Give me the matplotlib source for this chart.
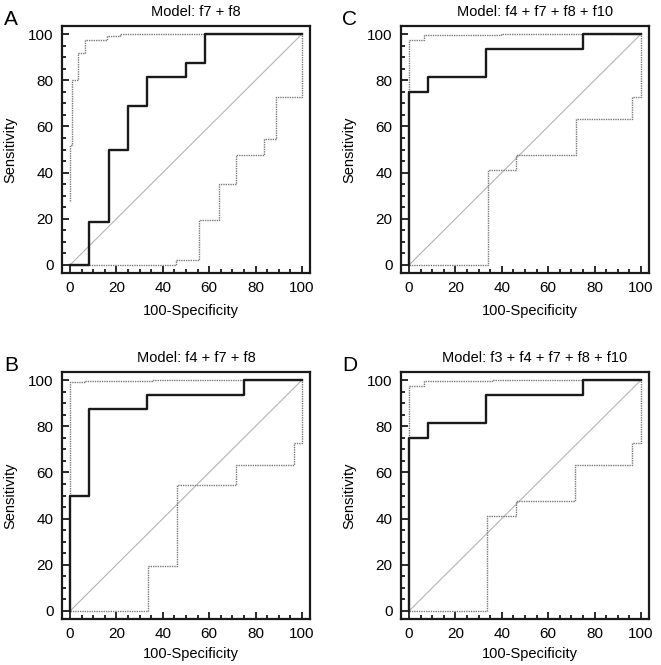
import matplotlib
matplotlib.use("Agg")
import matplotlib.pyplot as plt
from matplotlib.ticker import MultipleLocator

plt.rcParams['font.family'] = ['Liberation Sans', 'DejaVu Sans']

# ROC operating points (100-Specificity, Sensitivity), drawn as steps
a_roc_x = [0, 8.33, 16.67, 25, 33.33, 50, 58.33, 100]
a_roc_y = [0, 18.75, 50, 68.75, 81.25, 87.5, 100, 100]
a_hi_x = [0, 0, 0.8, 3.2, 6.5, 15.8, 21.5, 100]
a_hi_y = [27.5, 52, 80, 92, 97.4, 99.2, 100, 100]
a_lo_x = [0, 45.8, 55.8, 64.1, 71.5, 83.7, 88.7, 100]
a_lo_y = [0, 2.3, 19.5, 35, 47.6, 54.6, 72.6, 100]

b_roc_x = [0, 0, 8.33, 33.33, 75, 100]
b_roc_y = [0, 50, 87.5, 93.75, 100, 100]
b_hi_x = [0, 0, 6.5, 35.3, 100]
b_hi_y = [50, 99.3, 99.7, 100, 100]
b_lo_x = [0, 33.8, 46, 71.4, 96.4, 100]
b_lo_y = [0, 19.5, 54.7, 63, 72.7, 100]

c_roc_x = [0, 0, 8.33, 33.33, 75, 100]
c_roc_y = [0, 75, 81.25, 93.75, 100, 100]
c_hi_x = [0, 0, 6.6, 39.5, 100]
c_hi_y = [75, 97.3, 99.6, 100, 100]
c_lo_x = [0, 33.9, 46.1, 71.8, 96.1, 100]
c_lo_y = [0, 41, 47.5, 63, 72.6, 100]

d_roc_x = [0, 0, 8.33, 33.33, 75, 100]
d_roc_y = [0, 75, 81.25, 93.75, 100, 100]
d_hi_x = [0, 0, 6.5, 35.6, 100]
d_hi_y = [75, 97.4, 99.6, 100, 100]
d_lo_x = [0, 33.8, 46, 71.6, 96, 100]
d_lo_y = [0, 41, 47.5, 63, 72.6, 100]

panels = [
    ("A", "Model: f7 + f8", (a_roc_x, a_roc_y), (a_hi_x, a_hi_y), (a_lo_x, a_lo_y)),
    ("C", "Model: f4 + f7 + f8 + f10", (c_roc_x, c_roc_y), (c_hi_x, c_hi_y), (c_lo_x, c_lo_y)),
    ("B", "Model: f4 + f7 + f8", (b_roc_x, b_roc_y), (b_hi_x, b_hi_y), (b_lo_x, b_lo_y)),
    ("D", "Model: f3 + f4 + f7 + f8 + f10", (d_roc_x, d_roc_y), (d_hi_x, d_hi_y), (d_lo_x, d_lo_y)),
]

W, H = 661, 665
fig = plt.figure(figsize=(W / 100, H / 100), dpi=100)

# axes boxes in pixels: left, top, right, bottom
boxes = [(62, 26, 310, 273), (401, 26, 649, 273),
         (62, 372, 310, 619), (401, 372, 649, 619)]

for i, ((letter, title, roc, hi, lo), (l, t, r, b)) in enumerate(zip(panels, boxes)):
    ax = fig.add_axes([l / W, 1 - b / H, (r - l) / W, (b - t) / H])
    ax.plot([0, 100], [0, 100], color='#b4b4b4', lw=0.8)
    ax.plot(*lo, drawstyle='steps-post', color='#7a7a7a', lw=1.0, linestyle=(0, (1, 0.7)))
    ax.plot(*hi, drawstyle='steps-post', color='#7a7a7a', lw=1.0, linestyle=(0, (1, 0.7)))
    ax.plot(*roc, drawstyle='steps-post', color='#1a1a1a', lw=1.7)

    ax.set_xlim(-3.5, 103.5)
    ax.set_ylim(-3.5, 103.5)
    ax.xaxis.set_major_locator(MultipleLocator(20))
    ax.yaxis.set_major_locator(MultipleLocator(20))
    ax.xaxis.set_minor_locator(MultipleLocator(5))
    ax.yaxis.set_minor_locator(MultipleLocator(5))
    ax.tick_params(which='both', direction='in', width=1.3, color='#1a1a1a')
    ax.tick_params(which='major', length=5, labelsize=11, pad=6)
    ax.tick_params(which='minor', length=3)
    for s in ax.spines.values():
        s.set_linewidth(1.6)
        s.set_color('#1a1a1a')

    ax.set_title(title, fontsize=10.5, pad=7, x=0.54)
    ax.set_xlabel('100-Specificity', fontsize=10.5)
    ax.set_ylabel('Sensitivity', fontsize=10.5)
    ax.xaxis.set_label_coords(0.52, -0.125 if i < 2 else -0.113)
    ax.yaxis.set_label_coords(-0.18, 0.5)

    fig.text((l - 51) / W, 1 - (t - 1) / H, letter, fontsize=15, ha='center', va='baseline')

fig.savefig('out.png', dpi=100)
